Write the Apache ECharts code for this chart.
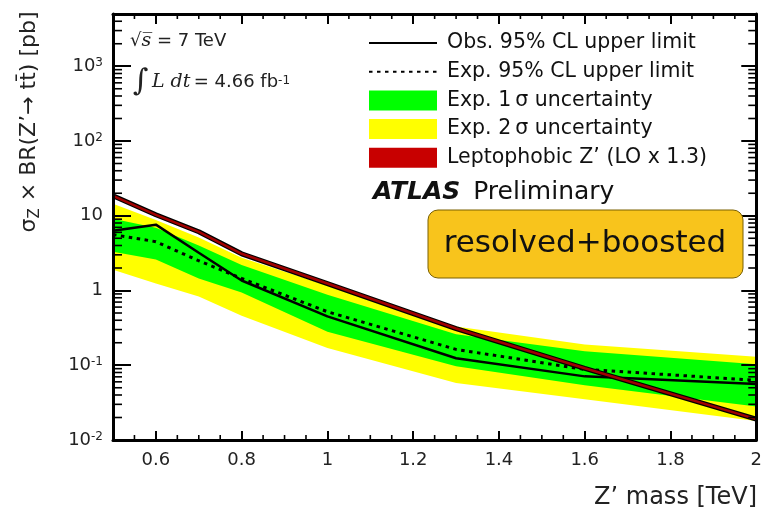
<!DOCTYPE html>
<html>
<head>
<meta charset="utf-8">
<title>Z' to ttbar cross section limits</title>
<script src="https://cdn.jsdelivr.net/npm/echarts@6.0.0/dist/echarts.min.js"></script>
<style>
  html, body { margin: 0; padding: 0; background: #fff; }
  #chart { width: 765px; height: 513px; }
</style>
</head>
<body>
<div id="chart"></div>
<script>
// Z' mass points [TeV]
const masses = [0.5, 0.6, 0.7, 0.8, 1.0, 1.3, 1.6, 2.0]
// sigma x BR [pb]
const observed = [6.3, 7.6, 3.2, 1.36, 0.45, 0.124, 0.071, 0.056]
const expected = [5.6, 4.5, 2.5, 1.45, 0.52, 0.163, 0.088, 0.063]
const oneSigmaUp = [9.1, 6.9, 4.0, 2.2, 0.88, 0.26, 0.154, 0.103]
const oneSigmaDown = [3.3, 2.6, 1.45, 0.94, 0.28, 0.097, 0.054, 0.028]
const twoSigmaUp = [14.5, 8.8, 5.1, 2.75, 1.17, 0.33, 0.19, 0.13]
const twoSigmaDown = [1.9, 1.24, 0.83, 0.46, 0.17, 0.058, 0.035, 0.018]
const theory = [18.5, 10.3, 6.1, 3.1, 1.24, 0.31, 0.091, 0.019]

// axis ranges and tick labels
const xMin = 0.5
const xMax = 2.0
const yMin = 0.01
const yMax = 5000
const yDecades = [-2, -1, 0, 1, 2, 3]

const FONT = 'DejaVu Sans'

function pairs(values) {
  return masses.map((m, i) => [m, values[i]])
}

// filled band between two curves
function band(name, lo, hi, color) {
  return {
    name: name,
    type: 'custom',
    silent: true,
    itemStyle: { color: color },
    data: [[masses[0], hi[0]]],
    renderItem: function (params, api) {
      const pts = []
      masses.forEach((m, i) => pts.push(api.coord([m, hi[i]])))
      for (let i = masses.length - 1; i >= 0; i--) {
        pts.push(api.coord([masses[i], lo[i]]))
      }
      return { type: 'polygon', shape: { points: pts }, style: { fill: color } }
    },
  }
}

// ROOT style minor ticks on all four sides
const yMinor = []
yDecades.forEach(d => {
  for (let k = 2; k <= 9; k++) {
    const v = k * Math.pow(10, d)
    if (v < yMax) yMinor.push(v)
  }
})
const xMinor = []
for (let k = 11; k < 40; k++) {
  if (k % 4 !== 0) xMinor.push(k * 0.05)
}

function tickLine(x1, y1, x2, y2) {
  return { type: 'line', shape: { x1, y1, x2, y2 }, style: { stroke: '#000', lineWidth: 1.6 } }
}

const minorTicks = {
  type: 'custom',
  silent: true,
  clip: false,
  z: 11,
  data: [[masses[0], 1]],
  renderItem: function (params, api) {
    const children = []
    yMinor.forEach(v => {
      const l = api.coord([xMin, v])
      const r = api.coord([xMax, v])
      children.push(tickLine(l[0], l[1], l[0] + 9, l[1]))
      children.push(tickLine(r[0], r[1], r[0] - 8, r[1]))
    })
    xMinor.forEach(m => {
      const b = api.coord([m, yMin])
      const t = api.coord([m, yMax])
      children.push(tickLine(b[0], b[1], b[0], b[1] - 5))
      children.push(tickLine(t[0], t[1], t[0], t[1] + 5))
    })
    return { type: 'group', children: children }
  },
}

function fmtMass(v) {
  if (Math.abs(v - xMin) < 1e-9) return ''
  return String(+v.toFixed(1))
}

function fmtLog(v) {
  const lg = Math.log10(v)
  const e = Math.round(lg)
  if (Math.abs(lg - e) > 1e-6) return ''
  if (e === 0) return '1'
  if (e === 1) return '10'
  return '10{sup|' + e + '}'
}

const axisLine = { show: true, onZero: false, lineStyle: { color: '#000', width: 3 } }

const chart = echarts.init(document.getElementById('chart'))
const option = {
  animation: false,
  backgroundColor: '#fff',
  grid: { left: 113, top: 14, right: 7, bottom: 73, containLabel: false },
  legend: {
    orient: 'vertical',
    left: 363,
    top: 27.5,
    itemWidth: 68,
    itemHeight: 20,
    itemGap: 7.7,
    selectedMode: false,
    textStyle: { fontFamily: FONT, fontSize: 20.5, color: '#111', lineHeight: 20, padding: [0, 0, 0, 5] },
    data: [
      { name: 'Obs. 95% CL upper limit', itemStyle: { opacity: 0 } },
      { name: 'Exp. 95% CL upper limit', itemStyle: { opacity: 0 } },
      { name: 'Exp. 1\u2009σ uncertainty', icon: 'rect' },
      { name: 'Exp. 2\u2009σ uncertainty', icon: 'rect' },
      { name: 'Leptophobic Z’ (LO x 1.3)', icon: 'rect', itemStyle: { color: '#c80000' } },
    ],
  },
  xAxis: [
    {
      type: 'value',
      min: xMin,
      max: xMax,
      splitNumber: 8,
      position: 'bottom',
      z: 10,
      axisLine: axisLine,
      axisTick: { show: true, inside: true, length: 9, lineStyle: { color: '#000', width: 2 } },
      axisLabel: { margin: 11, color: '#222', fontFamily: FONT, fontSize: 18, formatter: fmtMass },
      splitLine: { show: false },
    },
    {
      type: 'value',
      min: xMin,
      max: xMax,
      splitNumber: 8,
      position: 'top',
      z: 10,
      axisLine: axisLine,
      axisTick: { show: true, inside: true, length: 10, lineStyle: { color: '#000', width: 2 } },
      axisLabel: { show: false },
      splitLine: { show: false },
    },
  ],
  yAxis: [
    {
      type: 'log',
      logBase: 10,
      min: yMin,
      max: yMax,
      position: 'left',
      z: 10,
      axisLine: axisLine,
      axisTick: { show: true, inside: true, length: 18, lineStyle: { color: '#000', width: 2 } },
      axisLabel: {
        margin: 10,
        color: '#222',
        fontFamily: FONT,
        fontSize: 18,
        formatter: fmtLog,
        rich: { sup: { fontFamily: FONT, fontSize: 12, color: '#222', verticalAlign: 'top' } },
      },
      splitLine: { show: false },
    },
    {
      type: 'log',
      logBase: 10,
      min: yMin,
      max: yMax,
      position: 'right',
      z: 10,
      axisLine: axisLine,
      axisTick: { show: true, inside: true, length: 15, lineStyle: { color: '#000', width: 2 } },
      axisLabel: { show: false },
      splitLine: { show: false },
    },
  ],
  series: [
    band('Exp. 2\u2009σ uncertainty', twoSigmaDown, twoSigmaUp, '#ffff00'),
    band('Exp. 1\u2009σ uncertainty', oneSigmaDown, oneSigmaUp, '#00ff00'),
    {
      name: 'Exp. 95% CL upper limit',
      type: 'line',
      data: pairs(expected),
      symbol: 'none',
      itemStyle: { color: '#000' },
      lineStyle: { color: '#000', width: 3, type: [3.5, 4.5] },
    },
    {
      name: 'Obs. 95% CL upper limit',
      type: 'line',
      data: pairs(observed),
      symbol: 'none',
      itemStyle: { color: '#000' },
      lineStyle: { color: '#000', width: 2.5 },
    },
    {
      name: 'theory edge',
      type: 'line',
      data: pairs(theory),
      symbol: 'none',
      silent: true,
      lineStyle: { color: '#000', width: 5 },
    },
    {
      name: 'Leptophobic Z’ (LO x 1.3)',
      type: 'line',
      data: pairs(theory),
      symbol: 'none',
      itemStyle: { color: '#c80000' },
      lineStyle: { color: '#a00000', width: 2.5 },
    },
    minorTicks,
  ],
  graphic: [
    {
      type: 'text',
      x: 29,
      y: 122,
      rotation: Math.PI / 2,
      style: {
        text: '{a|σ}{s|Z}{a| × BR(Z’→ tt\u0304) [pb]}',
        align: 'center',
        verticalAlign: 'middle',
        rich: {
          a: { fontFamily: FONT, fontSize: 22, fill: '#222' },
          s: { fontFamily: FONT, fontSize: 15, fill: '#222', padding: [12, 0, 0, 0] },
        },
      },
    },
    {
      type: 'text',
      x: 757,
      y: 498,
      style: {
        text: 'Z’ mass [TeV]',
        align: 'right',
        verticalAlign: 'middle',
        fontFamily: FONT,
        fontSize: 24,
        fill: '#222',
      },
    },
    {
      type: 'text',
      x: 130,
      y: 41,
      style: {
        text: '{r|√}{i|s\u0305}{r| = 7 TeV}',
        verticalAlign: 'middle',
        rich: {
          r: { fontFamily: FONT, fontSize: 18, fill: '#222' },
          i: { fontFamily: 'DejaVu Serif', fontStyle: 'italic', fontSize: 19, fill: '#222' },
        },
      },
    },
    {
      type: 'text',
      x: 133,
      y: 82,
      style: {
        text: '{big|∫} {i|L dt} {r|= 4.66 fb}{sup|-1}',
        verticalAlign: 'middle',
        rich: {
          big: { fontFamily: 'DejaVu Serif', fontSize: 30, fill: '#222' },
          i: { fontFamily: 'DejaVu Serif', fontStyle: 'italic', fontSize: 19, fill: '#222' },
          r: { fontFamily: FONT, fontSize: 18, fill: '#222' },
          sup: { fontFamily: FONT, fontSize: 12, fill: '#222', verticalAlign: 'top', padding: [8, 0, 0, 0] },
        },
      },
    },
    {
      type: 'text',
      x: 373,
      y: 192,
      style: {
        text: '{b|ATLAS}{n| \u2009Preliminary}',
        verticalAlign: 'middle',
        rich: {
          b: { fontFamily: FONT, fontSize: 25, fontWeight: 'bold', fontStyle: 'italic', fill: '#111' },
          n: { fontFamily: FONT, fontSize: 25, fill: '#111' },
        },
      },
    },
    {
      type: 'rect',
      shape: { x: 428, y: 210, width: 315, height: 68, r: 10 },
      style: { fill: '#f8c41c', stroke: '#7a6000', lineWidth: 1 },
      z: 20,
    },
    {
      type: 'text',
      x: 585,
      y: 244,
      z: 21,
      style: {
        text: 'resolved+boosted',
        align: 'center',
        verticalAlign: 'middle',
        fontFamily: FONT,
        fontSize: 31,
        fill: '#111',
      },
    },
  ],
}
chart.setOption(option)
</script>
</body>
</html>
